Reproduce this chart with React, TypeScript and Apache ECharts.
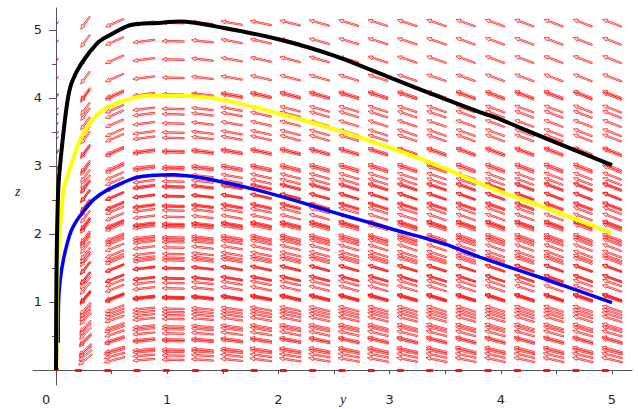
import React, { useEffect, useRef } from "react";
import * as echarts from "echarts";

// ---- data ----
// direction-field grid: 20 columns over y in [0,5]
const fieldColumns = [0, 0.263, 0.526, 0.789, 1.053, 1.316, 1.579, 1.842, 2.105, 2.368, 2.632, 2.895, 3.158, 3.421, 3.684, 3.947, 4.211, 4.474, 4.737, 5];
// three overlaid field plots, each with 20 rows from z=0 up to its own top
const fieldRowTops = [5.1, 4.05, 2.85];
const fieldRowCount = 20;
// slope model of the field dz/dy = (1 - y)/y * g(z), read from arrow directions
const slopeHigh = 0.8;
const slopeDrop = 0.38;
const slopeRate = 1.2;

const blackCurve: [number, number][] = [
  [0, 0], [0.004, 1.4], [0.02, 2.65], [0.05, 3.23], [0.1, 3.92], [0.14, 4.22], [0.23, 4.51], [0.37, 4.8],
  [0.46, 4.9], [0.67, 5.07], [0.91, 5.1], [1.12, 5.12], [1.5, 5.03], [2.0, 4.86], [2.5, 4.62],
  [3.0, 4.3], [3.5, 3.98], [3.81, 3.79], [4.0, 3.68], [4.41, 3.4], [5.0, 3.01],
];
const yellowCurve: [number, number][] = [
  [0.003, 0], [0.008, 1.0], [0.02, 1.66], [0.03, 1.96], [0.05, 2.35], [0.067, 2.65], [0.13, 2.99], [0.216, 3.38],
  [0.306, 3.63], [0.42, 3.82], [0.636, 3.97], [0.845, 4.03], [1.115, 4.03], [1.5, 3.97], [2.0, 3.77],
  [2.5, 3.54], [3.0, 3.27], [3.5, 2.96], [3.95, 2.65], [4.41, 2.38], [5.0, 2.01],
];
const blueCurve: [number, number][] = [
  [0.02, 0.4], [0.022, 0.95], [0.036, 1.3], [0.066, 1.62], [0.126, 2.0], [0.18, 2.18], [0.245, 2.33], [0.335, 2.5],
  [0.456, 2.64], [0.726, 2.83], [1.05, 2.87], [1.29, 2.83], [1.59, 2.73], [1.89, 2.61], [2.19, 2.47],
  [2.49, 2.32], [2.79, 2.18], [3.09, 2.04], [3.5, 1.85], [3.81, 1.66], [4.41, 1.33], [5.0, 0.99],
];

const xTickValues = [0.5, 1, 1.5, 2, 2.5, 3, 3.5, 4, 4.5, 5];
const xLabelValues = [0, 1, 2, 3, 4, 5];
const yMajorValues = [1, 2, 3, 4, 5];
const yMinorValues = [0.5, 1.5, 2.5, 3.5, 4.5];

const X_MIN = -0.207;
const X_MAX = 5.18;
const Y_MIN = -0.22;
const Y_MAX = 5.32;
const ARROW_HALF = 0.1;

function slope(y: number, z: number) {
  return ((1 - y) / y) * (slopeHigh - slopeDrop * Math.exp(-slopeRate * z));
}

const fieldData: number[][] = [];
fieldRowTops.forEach((top) => {
  for (let j = 0; j < fieldRowCount; j++) {
    const z = (top * j) / (fieldRowCount - 1);
    fieldColumns.forEach((y) => fieldData.push([y, z]));
  }
});

const RED = "#ff0000";
const AXIS = "#555";
const LABEL = "#2a2a2a";
const FONT = "DejaVu Sans";

// layout
const GRID_LEFT = 33;
const GRID_RIGHT = 6;
const GRID_TOP = 8;
const GRID_BOTTOM = 24;
const PLOT_W = 638 - GRID_LEFT - GRID_RIGHT;
// shift of the z axis from the grid edge to y = 0
const Y_AXIS_OFFSET = -((0 - X_MIN) / (X_MAX - X_MIN)) * PLOT_W;

function renderArrow(params: any, api: any) {
  const y = api.value(0) as number;
  const z = api.value(1) as number;
  const c = api.coord([y, z]);
  if (y === 0) {
    return {
      type: "line",
      shape: { x1: c[0] + 0.5, y1: c[1] + 1.5, x2: c[0] + 2.5, y2: c[1] - 1.5 },
      style: { stroke: RED, lineWidth: 1 },
    };
  }
  if (z === 0) {
    return {
      type: "line",
      shape: { x1: c[0] - 10, y1: c[1] + 0.5, x2: c[0] - 3.5, y2: c[1] + 0.5 },
      style: { stroke: RED, lineWidth: 2 },
    };
  }
  const f = slope(y, z);
  const n = Math.hypot(1, f);
  const uy = -1 / n;
  const uz = -f / n;
  const H = api.coord([y + uy * ARROW_HALF, z + uz * ARROW_HALF]);
  const T = api.coord([y - uy * ARROW_HALF, z - uz * ARROW_HALF]);
  const dx = H[0] - T[0];
  const dy = H[1] - T[1];
  const len = Math.hypot(dx, dy) || 1;
  const vx = dx / len;
  const vy = dy / len;
  const nx = -vy;
  const ny = vx;
  const h = Math.min(4.5, len * 0.3);
  const w = 2.0;
  const s = 0.7;
  const bx = H[0] - vx * h;
  const by = H[1] - vy * h;
  const pts = [
    [T[0] + nx * s, T[1] + ny * s],
    [bx + nx * s, by + ny * s],
    [bx + nx * w, by + ny * w],
    [H[0], H[1]],
    [bx - nx * w, by - ny * w],
    [bx - nx * s, by - ny * s],
    [T[0] - nx * s, T[1] - ny * s],
  ];
  return {
    type: "polygon",
    shape: { points: pts },
    style: { fill: "rgba(255,0,0,0.1)", stroke: RED, lineWidth: 0.7 },
  };
}

const option: any = {
  animation: false,
  backgroundColor: "#ffffff",
  grid: { left: GRID_LEFT, right: GRID_RIGHT, top: GRID_TOP, bottom: GRID_BOTTOM, containLabel: false, outerBoundsMode: "none" },
  xAxis: {
    type: "value",
    min: X_MIN,
    max: X_MAX,
    splitLine: { show: false },
    axisLine: { onZero: true, lineStyle: { color: AXIS, width: 1 } },
    axisTick: { show: true, customValues: xTickValues, length: 4, lineStyle: { color: AXIS } },
    axisLabel: {
      customValues: xLabelValues,
      margin: 8,
      color: LABEL,
      fontFamily: FONT,
      fontSize: 13,
      formatter: (v: number) => (v === 0 ? "{o|0}" : String(v)),
      rich: { o: { padding: [0, 20, 0, 0], color: LABEL, fontFamily: FONT, fontSize: 13 } },
    },
  },
  yAxis: [
    {
      type: "value",
      min: Y_MIN,
      max: Y_MAX,
      offset: Y_AXIS_OFFSET,
      splitLine: { show: false },
      axisLine: { onZero: false, lineStyle: { color: AXIS, width: 1 } },
      axisTick: { show: true, customValues: yMajorValues, length: 7, lineStyle: { color: AXIS } },
      axisLabel: { customValues: yMajorValues, margin: 14, color: LABEL, fontFamily: FONT, fontSize: 13 },
    },
    {
      type: "value",
      position: "left",
      min: Y_MIN,
      max: Y_MAX,
      offset: Y_AXIS_OFFSET,
      splitLine: { show: false },
      axisLine: { show: false, onZero: false },
      axisTick: { show: true, customValues: yMinorValues, length: 4, lineStyle: { color: AXIS } },
      axisLabel: { show: false },
    },
  ],
  graphic: [
    { type: "text", left: 340, top: 392, style: { text: "y", font: "italic 14px 'Liberation Serif'", fill: LABEL } },
    { type: "text", left: 15, top: 184, style: { text: "z", font: "italic 14px 'Liberation Serif'", fill: LABEL } },
  ],
  series: [
    {
      type: "custom",
      renderItem: renderArrow,
      data: fieldData,
      clip: false,
      z: 1,
      silent: true,
    },
    {
      type: "line",
      data: blueCurve,
      showSymbol: false,
      smooth: 0.25,
      lineStyle: { color: "#0000ff", width: 3.5 },
      z: 3,
    },
    {
      type: "line",
      data: yellowCurve,
      showSymbol: false,
      smooth: 0.25,
      lineStyle: { color: "#ffff00", width: 4 },
      z: 3,
    },
    {
      type: "line",
      data: blackCurve,
      showSymbol: false,
      smooth: 0.25,
      lineStyle: { color: "#000000", width: 4 },
      z: 3,
    },
  ],
};

export default function App() {
  const ref = useRef<HTMLDivElement>(null);
  useEffect(() => {
    const chart = echarts.init(ref.current!, null, { renderer: "svg" });
    chart.setOption(option);
    return () => chart.dispose();
  }, []);
  return (
    <div
      ref={ref}
      style={{ position: "fixed", left: 0, top: 0, width: 638, height: 409, background: "#fff" }}
    />
  );
}
